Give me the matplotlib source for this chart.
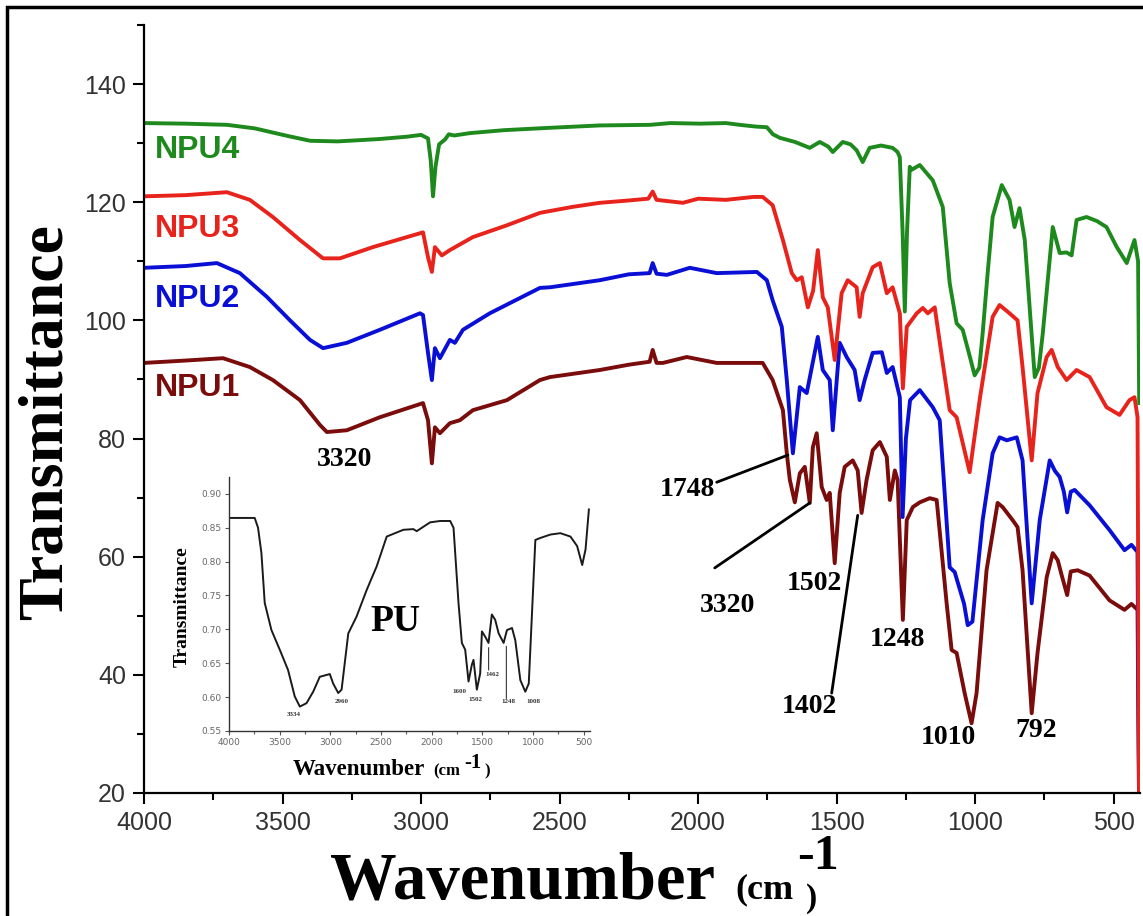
import numpy as np
import matplotlib

matplotlib.use('Agg')
import matplotlib.pyplot as plt
from matplotlib.patches import Rectangle
from matplotlib.ticker import MultipleLocator, FormatStrFormatter

# FTIR spectra: (wavenumber cm-1, transmittance)
npu4 = [(4000, 133.4), (3850, 133.3), (3700, 133.1), (3600, 132.5), (3480, 131.2), (3400, 130.4),
        (3300, 130.3), (3150, 130.7), (3050, 131.1), (3000, 131.4), (2975, 130.8), (2965, 127.0),
        (2957, 121.0), (2948, 126.0), (2935, 129.8), (2914, 130.6), (2900, 131.5), (2880, 131.3),
        (2824, 131.7), (2700, 132.2), (2535, 132.6), (2355, 133.0), (2174, 133.1), (2100, 133.4),
        (1994, 133.3), (1900, 133.4), (1850, 133.1), (1790, 132.8), (1752, 132.7), (1730, 131.5),
        (1705, 130.9), (1650, 130.2), (1597, 129.2), (1561, 130.2), (1530, 129.4), (1514, 128.5),
        (1478, 130.2), (1450, 129.8), (1428, 128.8), (1406, 126.8), (1381, 129.2), (1340, 129.6),
        (1298, 129.2), (1280, 128.5), (1272, 127.6), (1262, 115.0), (1254, 101.5), (1246, 115.0),
        (1236, 126.0), (1229, 125.5), (1200, 126.3), (1153, 123.7), (1117, 119.2), (1092, 106.3),
        (1067, 99.5), (1045, 98.4), (1020, 94.0), (1002, 90.7), (985, 92.0), (973, 97.8),
        (955, 108.0), (937, 117.5), (904, 122.9), (876, 120.4), (858, 115.8), (840, 119.0),
        (821, 113.6), (800, 100.0), (785, 90.4), (770, 92.0), (756, 97.8), (720, 115.8),
        (695, 111.4), (670, 111.5), (652, 111.0), (634, 117.0), (598, 117.5), (560, 116.8),
        (526, 115.8), (490, 112.5), (453, 109.7), (425, 113.6), (412, 110.0), (408, 86.0)]

npu3 = [(4000, 121.0), (3850, 121.2), (3701, 121.7), (3618, 120.4), (3535, 117.5), (3437, 113.6),
        (3354, 110.5), (3293, 110.5), (3174, 112.4), (3051, 114.1), (2993, 114.9), (2975, 110.7),
        (2961, 108.2), (2950, 112.4), (2925, 111.0), (2896, 111.9), (2813, 114.1), (2690, 116.1),
        (2571, 118.2), (2455, 119.2), (2355, 119.9), (2250, 120.3), (2180, 120.6), (2164, 121.8),
        (2150, 120.4), (2055, 119.9), (2000, 120.6), (1900, 120.4), (1800, 120.9), (1767, 120.9),
        (1731, 119.5), (1694, 113.6), (1662, 108.0), (1644, 106.8), (1626, 107.3), (1604, 102.2),
        (1585, 105.0), (1568, 111.9), (1550, 103.9), (1532, 102.2), (1507, 93.3), (1482, 104.6),
        (1460, 106.8), (1428, 105.6), (1417, 100.6), (1406, 104.6), (1370, 109.0), (1344, 109.7),
        (1319, 104.6), (1298, 105.6), (1272, 101.2), (1261, 88.5), (1247, 98.9), (1211, 101.2),
        (1189, 102.1), (1171, 101.2), (1146, 102.2), (1117, 92.8), (1092, 84.8), (1067, 83.6),
        (1020, 74.3), (984, 86.5), (937, 100.6), (912, 102.6), (876, 101.2), (847, 100.0),
        (829, 92.1), (796, 76.3), (775, 87.7), (742, 93.8), (724, 95.0), (702, 92.1),
        (670, 89.9), (634, 91.6), (587, 90.4), (526, 85.3), (479, 84.0), (443, 86.5),
        (425, 87.0), (414, 83.6), (408, 15.0)]

npu2 = [(4000, 108.9), (3850, 109.2), (3737, 109.7), (3654, 108.0), (3557, 104.0), (3473, 100.0),
        (3401, 96.7), (3354, 95.3), (3268, 96.2), (3149, 98.4), (3004, 101.2), (2993, 100.9),
        (2975, 94.5), (2961, 89.9), (2950, 95.3), (2932, 93.6), (2896, 96.7), (2878, 96.2),
        (2849, 98.4), (2752, 101.2), (2571, 105.5), (2535, 105.6), (2355, 106.8), (2250, 107.8),
        (2175, 108.0), (2164, 109.7), (2150, 107.9), (2113, 107.7), (2030, 108.9), (1933, 108.0),
        (1788, 108.2), (1752, 106.8), (1731, 103.4), (1698, 98.9), (1680, 89.9), (1658, 77.5),
        (1633, 88.7), (1608, 87.7), (1568, 97.2), (1550, 91.6), (1525, 89.9), (1514, 81.4),
        (1489, 96.2), (1464, 93.8), (1435, 91.6), (1417, 86.5), (1399, 89.9), (1370, 94.5),
        (1337, 94.6), (1319, 91.1), (1298, 92.1), (1272, 87.0), (1262, 66.7), (1250, 80.0),
        (1235, 86.5), (1200, 88.2), (1153, 85.3), (1128, 83.1), (1092, 58.2), (1074, 57.4),
        (1040, 52.0), (1027, 48.4), (1010, 49.0), (973, 66.2), (937, 77.5), (912, 80.2),
        (886, 79.7), (850, 80.2), (829, 76.3), (796, 52.1), (767, 66.2), (731, 76.3),
        (712, 74.5), (695, 73.5), (680, 71.0), (668, 67.5), (655, 71.0), (641, 71.3),
        (587, 68.7), (515, 64.5), (461, 61.1), (436, 62.0), (414, 60.8), (408, 15.0)]

npu1 = [(4000, 92.8), (3850, 93.2), (3715, 93.6), (3618, 92.1), (3535, 89.9), (3437, 86.5),
        (3365, 82.3), (3340, 81.1), (3268, 81.4), (3149, 83.6), (2993, 86.0), (2975, 83.1),
        (2961, 75.8), (2950, 81.9), (2932, 80.9), (2896, 82.6), (2860, 83.1), (2813, 84.8),
        (2690, 86.5), (2571, 89.9), (2535, 90.4), (2355, 91.6), (2250, 92.5), (2175, 93.0),
        (2164, 95.0), (2150, 92.8), (2127, 92.8), (2041, 93.8), (1933, 92.8), (1767, 92.8),
        (1731, 89.9), (1694, 84.8), (1680, 77.5), (1669, 73.0), (1651, 69.2), (1633, 74.1),
        (1615, 75.2), (1597, 69.1), (1586, 78.5), (1572, 80.9), (1554, 71.8), (1536, 69.6),
        (1525, 70.8), (1507, 58.9), (1489, 70.8), (1471, 75.2), (1442, 76.3), (1424, 74.6),
        (1410, 67.4), (1392, 73.0), (1370, 78.0), (1344, 79.4), (1319, 76.9), (1308, 69.6),
        (1290, 74.6), (1280, 73.0), (1261, 49.3), (1247, 66.2), (1225, 68.4), (1200, 69.2),
        (1164, 69.9), (1139, 69.6), (1103, 52.1), (1085, 44.2), (1067, 43.7), (1038, 36.9),
        (1013, 31.8), (995, 36.9), (959, 57.7), (919, 69.1), (901, 68.4), (865, 66.2),
        (847, 65.0), (829, 57.7), (796, 33.5), (775, 43.7), (742, 56.5), (720, 60.6),
        (702, 59.4), (688, 56.9), (668, 53.5), (655, 57.5), (630, 57.7), (587, 56.8),
        (515, 52.6), (461, 51.0), (436, 52.0), (414, 51.0), (408, 15.0)]

# inset: neat PU spectrum
pu = [(4000, 0.8645), (3746, 0.8645), (3713, 0.850), (3680, 0.813), (3647, 0.739), (3581, 0.699),
      (3499, 0.670), (3417, 0.640), (3351, 0.601), (3301, 0.586), (3235, 0.591), (3169, 0.608),
      (3104, 0.630), (3005, 0.634), (2972, 0.620), (2922, 0.606), (2889, 0.611), (2823, 0.694),
      (2741, 0.719), (2642, 0.758), (2543, 0.793), (2444, 0.837), (2280, 0.847), (2181, 0.848),
      (2148, 0.845), (2016, 0.858), (1917, 0.860), (1818, 0.860), (1785, 0.850), (1736, 0.739),
      (1703, 0.680), (1670, 0.670), (1637, 0.623), (1604, 0.648), (1588, 0.655), (1555, 0.611),
      (1522, 0.635), (1505, 0.697), (1472, 0.689), (1440, 0.680), (1407, 0.722), (1374, 0.714),
      (1340, 0.694), (1291, 0.680), (1258, 0.699), (1208, 0.702), (1176, 0.684), (1126, 0.625),
      (1077, 0.608), (1043, 0.620), (978, 0.832), (928, 0.835), (829, 0.840), (731, 0.842),
      (632, 0.837), (566, 0.823), (516, 0.795), (483, 0.818), (450, 0.877)]

series_names = ['NPU1', 'NPU2', 'NPU3', 'NPU4']
series_colors = ['#7a0c0c', '#0a0fd6', '#e8231c', '#1e8a1e']
name_y = [88.5, 103.7, 115.5, 128.8]

# main peak labels: (text, x, y)
peak_labels = [('3320', 3275, 76.5), ('1748', 2037, 71.3), ('3320', 1893, 51.8),
               ('1502', 1579, 55.5), ('1402', 1597, 34.7), ('1248', 1280, 45.9),
               ('1010', 1096, 29.4), ('792', 778, 30.6)]
# leader lines: (start, end)
leaders = [((1933, 72.6), (1676, 77.2)), ((1940, 58.1), (1597, 69.1)),
           ((1518, 36.9), (1424, 67.0))]

pu_labels = [('3334', 3358, 0.574), ('2960', 2883, 0.593), ('1600', 1727, 0.609),
             ('1502', 1569, 0.596), ('1462', 1401, 0.633), ('1248', 1243, 0.593),
             ('1008', 996, 0.593)]
pu_leaders = [((1439, 0.673), (1439, 0.640)), ((1264, 0.675), (1264, 0.598))]

SERIF = 'Liberation Serif'
SANS = 'Liberation Sans'

fig = plt.figure(figsize=(11.43, 9.16), dpi=100)
fig.patch.set_facecolor('white')

ax = fig.add_axes([0.126, 0.1343, 0.8714, 0.8384])
for name, data, col in zip(series_names, [npu1, npu2, npu3, npu4], series_colors):
    wn, tr = zip(*data)
    ax.plot(wn, tr, color=col, lw=2.8, solid_joinstyle='round')

for name, y, col in zip(series_names, name_y, series_colors):
    ax.text(3962, y, name, color=col, fontsize=23, fontweight='bold', family=SANS,
            ha='left', va='center')

for txt, x, y in peak_labels:
    ax.text(x, y, txt, fontsize=20, fontweight='bold', family=SERIF, ha='center', va='center')
for (x0, y0), (x1, y1) in leaders:
    ax.annotate('', xy=(x1, y1), xytext=(x0, y0),
                arrowprops=dict(arrowstyle='-', lw=2.0, color='black', shrinkA=0, shrinkB=0))

ax.set_xlim(4000, 405)
ax.set_ylim(20, 150)
ax.xaxis.set_major_locator(MultipleLocator(500))
ax.xaxis.set_minor_locator(MultipleLocator(250))
ax.yaxis.set_major_locator(MultipleLocator(20))
ax.yaxis.set_minor_locator(MultipleLocator(10))
ax.spines['top'].set_visible(False)
ax.spines['right'].set_visible(False)
for s in ['left', 'bottom']:
    ax.spines[s].set_linewidth(1.6)
ax.tick_params(which='major', direction='out', length=8, width=1.5, labelsize=18,
               labelcolor='#333333', pad=5)
ax.tick_params(which='minor', direction='out', length=5, width=1.5)
for lab in ax.get_xticklabels() + ax.get_yticklabels():
    lab.set_family(SANS)
ax.set_facecolor('none')

# axis titles
fig.text(0.0405, 0.539, 'Transmittance', rotation=90, fontsize=46, fontweight='bold',
         family=SERIF, ha='center', va='center')
fig.text(0.2887, 0.0195, 'Wavenumber', fontsize=48, fontweight='bold', family=SERIF,
         ha='left', va='baseline')
fig.text(0.6430, 0.0195, '(cm', fontsize=26, fontweight='bold', family=SERIF, ha='left', va='baseline')
fig.text(0.6973, 0.0510, '-1', fontsize=36, fontweight='bold', family=SERIF, ha='left', va='baseline')
fig.text(0.7052, 0.0100, ')', fontsize=24, fontweight='bold', family=SERIF, ha='left', va='baseline')

# inset
ins = fig.add_axes([0.2003, 0.2020, 0.3158, 0.2773])
wn, tr = zip(*pu)
ins.plot(wn, tr, color='#1a1a1a', lw=1.4)
ins.set_xlim(4000, 440)
ins.set_ylim(0.55, 0.925)
ins.xaxis.set_major_locator(MultipleLocator(500))
ins.xaxis.set_minor_locator(MultipleLocator(250))
ins.yaxis.set_major_locator(MultipleLocator(0.05))
ins.yaxis.set_major_formatter(FormatStrFormatter('%.2f'))
ins.spines['top'].set_visible(False)
ins.spines['right'].set_visible(False)
for s in ['left', 'bottom']:
    ins.spines[s].set_linewidth(1.0)
    ins.spines[s].set_color('#333333')
ins.tick_params(which='major', direction='out', length=3, width=0.8, labelsize=6.5,
                colors='#555555', pad=2)
ins.tick_params(which='minor', direction='out', length=2, width=0.8, colors='#555555')
ins.tick_params(labelcolor='#666666')
ins.set_facecolor('none')
ins.text(2360, 0.711, 'PU', fontsize=27, fontweight='bold', family=SERIF, ha='center', va='center')
for txt, x, y in pu_labels:
    ins.text(x, y, txt, fontsize=5, fontweight='bold', family=SERIF, ha='center', va='center',
             color='#333333')
for (x0, y0), (x1, y1) in pu_leaders:
    ins.annotate('', xy=(x1, y1), xytext=(x0, y0),
                 arrowprops=dict(arrowstyle='-', lw=0.8, color='#333333', shrinkA=0, shrinkB=0))

fig.text(0.1592, 0.3373, 'Transmittance', rotation=90, fontsize=14, fontweight='bold',
         family=SERIF, ha='center', va='center')
fig.text(0.2563, 0.1539, 'Wavenumber', fontsize=16.5, fontweight='bold', family=SERIF,
         ha='left', va='baseline')
fig.text(0.3788, 0.1539, '(cm', fontsize=12, fontweight='bold', family=SERIF, ha='left', va='baseline')
fig.text(0.4060, 0.1620, '-1', fontsize=15, fontweight='bold', family=SERIF, ha='left', va='baseline')
fig.text(0.4234, 0.1539, ')', fontsize=12, fontweight='bold', family=SERIF, ha='left', va='baseline')

# outer frame of the original figure
fig.patches.append(Rectangle((0.0057, -0.05), 1.5, 0.9924 + 0.05, transform=fig.transFigure,
                             fill=False, lw=2.5, edgecolor='black', clip_on=False))

fig.savefig('out.png', dpi=100)
plt.close(fig)
